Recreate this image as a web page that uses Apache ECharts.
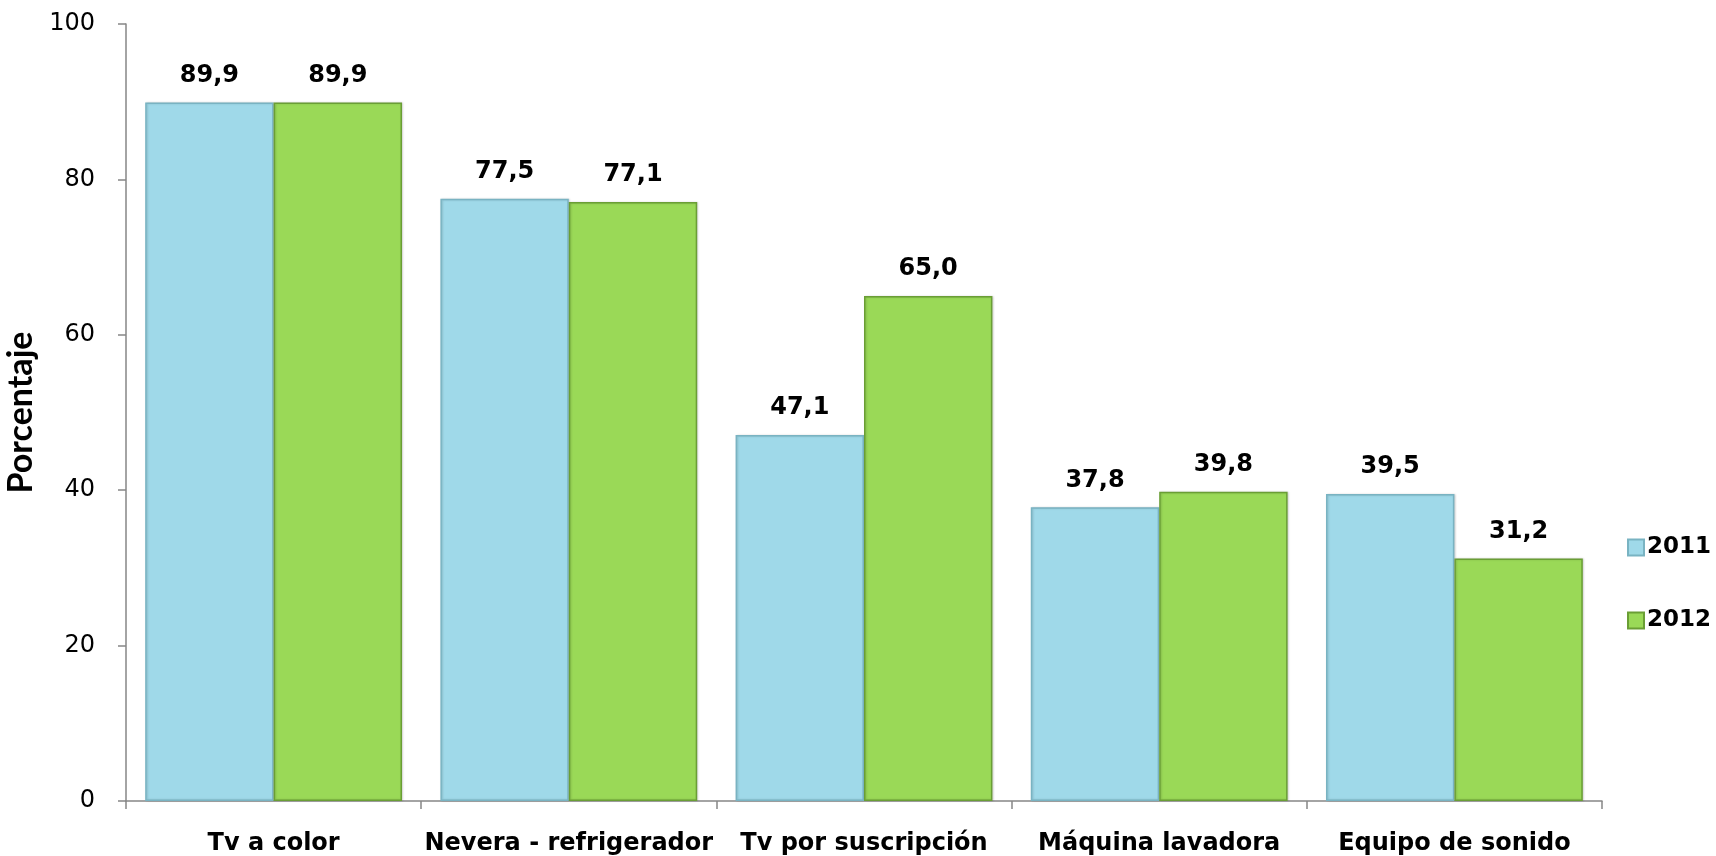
<!DOCTYPE html>
<html>
<head>
<meta charset="utf-8">
<script src="https://cdn.jsdelivr.net/npm/echarts@6/dist/echarts.min.js"></script>
<style>
  html, body { margin: 0; padding: 0; background: #fff; }
  #chart { width: 1716px; height: 856px; }
</style>
</head>
<body>
<div id="chart"></div>
<script>
var categories = ['Tv a color', 'Nevera - refrigerador', 'Tv por suscripción', 'Máquina lavadora', 'Equipo de sonido']
var years = ['2011', '2012']
var values2011 = [89.9, 77.5, 47.1, 37.8, 39.5]
var values2012 = [89.9, 77.1, 65.0, 39.8, 31.2]
var yTicks = { min: 0, max: 100, interval: 20 }

var chart = echarts.init(document.getElementById('chart'))

// flat fill with a darker outline, roughly like the Excel bevel
function barStyle(mid, dark) {
  return {
    color: mid,
    borderColor: dark,
    borderWidth: 1.5,
    shadowColor: 'rgba(0,0,0,0.15)',
    shadowBlur: 2,
    shadowOffsetX: 1
  }
}

var labelStyle = {
  show: true,
  position: 'top',
  distance: 15,
  fontFamily: 'DejaVu Sans',
  fontWeight: 'bold',
  fontSize: 24,
  color: '#000',
  formatter: function (p) { return p.value.toFixed(1).replace('.', ',') }
}

var option = {
  backgroundColor: '#fff',
  animation: false,
  grid: { left: 126, right: 114, top: 24, bottom: 55, outerBoundsMode: 'none', containLabel: false },
  legend: {
    orient: 'vertical',
    left: 1622,
    top: 531,
    itemGap: 50,
    itemWidth: 16,
    itemHeight: 16,
    icon: 'rect',
    textStyle: { fontFamily: 'DejaVu Sans', fontWeight: 'bold', fontSize: 23, color: '#000', padding: [0, 0, 0, -2] },
    data: years
  },
  xAxis: {
    type: 'category',
    data: categories,
    axisLine: { lineStyle: { color: '#868686', width: 1.5 } },
    axisTick: { show: true, length: 8, lineStyle: { color: '#868686', width: 1.5 } },
    axisLabel: {
      margin: 31,
      fontFamily: 'DejaVu Sans',
      fontWeight: 'bold',
      fontSize: 24,
      color: '#000',
      interval: 0
    }
  },
  yAxis: {
    type: 'value',
    min: yTicks.min,
    max: yTicks.max,
    interval: yTicks.interval,
    name: 'Porcentaje',
    nameLocation: 'middle',
    nameGap: 86,
    nameRotate: 90,
    nameTextStyle: { fontFamily: 'Lato', fontWeight: 'bold', fontSize: 34, color: '#000' },
    axisLine: { show: true, lineStyle: { color: '#868686', width: 1.5 } },
    axisTick: { show: true, length: 8, lineStyle: { color: '#868686', width: 1.5 } },
    splitLine: { show: false },
    axisLabel: { margin: 31, fontFamily: 'DejaVu Sans', fontSize: 24, color: '#000' }
  },
  series: [
    {
      name: years[0],
      type: 'bar',
      data: values2011,
      barGap: '0%',
      barCategoryGap: '13%',
      itemStyle: barStyle('#9fd9e9', '#79b3c2'),
      label: labelStyle
    },
    {
      name: years[1],
      type: 'bar',
      data: values2012,
      itemStyle: barStyle('#9ad957', '#6a9e35'),
      label: labelStyle
    }
  ]
}

chart.setOption(option)
</script>
</body>
</html>
